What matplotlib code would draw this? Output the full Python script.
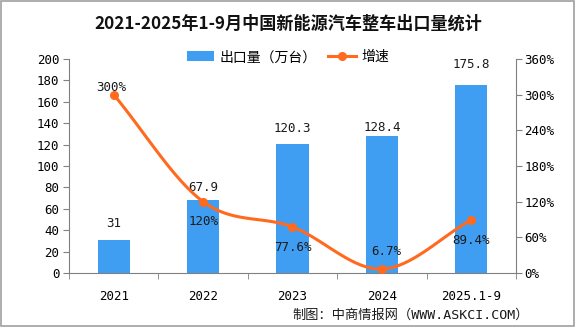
import matplotlib
matplotlib.use("Agg")
import matplotlib.pyplot as plt
import numpy as np
from matplotlib.patches import Rectangle

plt.rcParams['font.family'] = ['DejaVu Sans Mono', 'Noto Sans CJK SC']

years = ["2021", "2022", "2023", "2024", "2025.1-9"]
exports = [31, 67.9, 120.3, 128.4, 175.8]
growth = [300, 120, 77.6, 6.7, 89.4]
growth_labels = ["300%", "120%", "77.6%", "6.7%", "89.4%"]

bar_color = "#409EF2"
line_color = "#FF6A1E"
axis_gray = "#808080"
text_color = "#1A1A1A"

fig = plt.figure(figsize=(5.76, 3.27), dpi=100)
ax = fig.add_axes([0.1198, 0.1651, 0.776, 0.6545])
ax2 = ax.twinx()

x = np.arange(len(years))
ax.bar(x, exports, width=0.36, color=bar_color, zorder=2, label="出口量（万台）")
ax.set_xlim(-0.5, len(years) - 0.5)
ax.set_ylim(0, 200)
ax.set_yticks(range(0, 201, 20))
ax2.set_ylim(0, 360)
ax2.set_yticks(range(0, 361, 60))
ax2.set_yticklabels([f"{v}%" for v in range(0, 361, 60)])

# smooth curve through the growth points (Catmull-Rom)
def smooth(xs, ys, n=30):
    px = np.concatenate([[2 * xs[0] - xs[1]], xs, [2 * xs[-1] - xs[-2]]])
    py = np.concatenate([[2 * ys[0] - ys[1]], ys, [2 * ys[-1] - ys[-2]]])
    out_x, out_y = [], []
    for i in range(1, len(px) - 2):
        t = np.linspace(0, 1, n)
        for arr, out in ((px, out_x), (py, out_y)):
            p0, p1, p2, p3 = arr[i - 1], arr[i], arr[i + 1], arr[i + 2]
            out.extend(0.5 * ((2 * p1) + (-p0 + p2) * t
                              + (2 * p0 - 5 * p1 + 4 * p2 - p3) * t ** 2
                              + (-p0 + 3 * p1 - 3 * p2 + p3) * t ** 3))
    return np.array(out_x), np.array(out_y)

sx, sy = smooth(x.astype(float), np.array(growth, dtype=float))
ax2.plot(sx, sy, color=line_color, lw=2.2, zorder=3, clip_on=False)
ax2.plot(x, growth, 'o', color=line_color, ms=5.5, zorder=4, clip_on=False)

# value labels, offsets in points
bar_offsets = [11.5, 9.5, 11.5, 6, 15]
for xi, v, off in zip(x, exports, bar_offsets):
    ax.annotate(f"{v:g}", (xi, v), xytext=(0, off), textcoords="offset points",
                ha="center", va="center", fontsize=9, color=text_color)

growth_offsets = [(-1.5, 5), (0, -14.5), (0, -14.5), (3.5, 12.5), (0, -15)]
for xi, g, lab, off in zip(x, growth, growth_labels, growth_offsets):
    ax2.annotate(lab, (xi, g), xytext=off, textcoords="offset points",
                 ha="center", va="center", fontsize=9, color=text_color, zorder=5)

ax.set_xticks(x)
ax.set_xticklabels(years, fontsize=9)
ax.set_xticks(np.arange(-0.5, len(years), 1), minor=True)
ax.tick_params(axis="x", which="major", length=0, pad=12)
ax.tick_params(axis="x", which="minor", length=4, color=axis_gray)
ax.tick_params(axis="y", length=4, color=axis_gray, labelsize=9, pad=3)
ax2.tick_params(axis="y", length=4, color=axis_gray, labelsize=9, pad=2)

for a in (ax, ax2):
    a.spines["top"].set_visible(False)
    for s in ("left", "right", "bottom"):
        a.spines[s].set_color(axis_gray)
ax.spines["right"].set_visible(False)
ax2.spines["left"].set_visible(False)
ax2.spines["bottom"].set_visible(False)

h1, l1 = ax.get_legend_handles_labels()
line_handle, = ax2.plot([], [], color=line_color, lw=2.2, marker='o', ms=5.5)
fig.legend(h1 + [line_handle], l1 + ["增速"], loc="center", bbox_to_anchor=(0.5, 0.825),
           ncol=2, frameon=False, fontsize=10, handlelength=2.0, handleheight=0.75,
           columnspacing=0.8, handletextpad=0.4, prop={'family': 'Noto Sans CJK SC', 'size': 10})

fig.text(0.5, 0.927, "2021-2025年1-9月中国新能源汽车整车出口量统计", ha="center", va="center",
         fontsize=12.3, fontweight="bold", color="#111111", family="Noto Sans CJK SC")
fig.text(0.919, 0.035, "制图：中商情报网（WWW.ASKCI.COM）", ha="right", va="center", fontsize=9.5,
         color=text_color)

fig.patches.append(Rectangle((0.002, 0.003), 0.995, 0.994, transform=fig.transFigure,
                             fill=False, edgecolor="#A0A0A0", lw=1.2))

fig.savefig("out.png", dpi=100)
